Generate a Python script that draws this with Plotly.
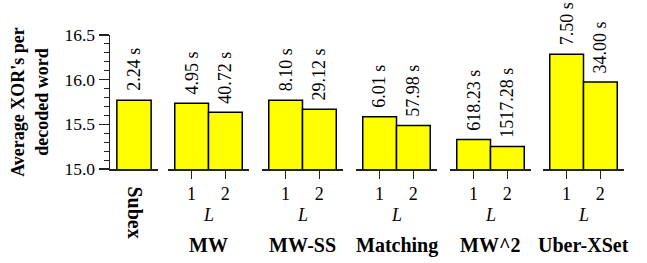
import plotly.graph_objects as go

# ---- data ----
group_names = ["Subex", "MW", "MW-SS", "Matching", "MW^2", "Uber-XSet"]
L_values = [1, 2]
subex_xor = [15.77]
mw_xor = [15.735, 15.635]
mwss_xor = [15.77, 15.67]
matching_xor = [15.585, 15.488]
mw2_xor = [15.33, 15.253]
uber_xor = [16.285, 15.973]
subex_time = ["2.24 s"]
mw_time = ["4.95 s", "40.72 s"]
mwss_time = ["8.10 s", "29.12 s"]
matching_time = ["6.01 s", "57.98 s"]
mw2_time = ["618.23 s", "1517.28 s"]
uber_time = ["7.50 s", "34.00 s"]
y_ticks = [15.0, 15.5, 16.0, 16.5]

FONT = "Liberation Serif, Times New Roman, Times, serif"
AX = "#222222"
FS = 18      # regular text
FSB = 20     # bold group labels

fig = go.Figure()

FIG_W, FIG_H = 647, 263
L_M = 110
T_M = 34.5
B_M = FIG_H - 169
R_M = FIG_W - 624
W = FIG_W - L_M - R_M
px_domains = [(110, 158), (168, 249), (262, 343), (356, 437), (450, 531), (543, 624)]
domains = [[max(0.0, (a - L_M) / W), min(1.0, (b - L_M) / W)] for a, b in px_domains]

series = [
    ([0], subex_xor, subex_time),
    (L_values, mw_xor, mw_time),
    (L_values, mwss_xor, mwss_time),
    (L_values, matching_xor, matching_time),
    (L_values, mw2_xor, mw2_time),
    (L_values, uber_xor, uber_time),
]

annotations = []
for i, (xs, ys, ts) in enumerate(series):
    xname = "x" if i == 0 else f"x{i+1}"
    axname = "xaxis" if i == 0 else f"xaxis{i+1}"
    fig.add_trace(go.Bar(
        x=xs, y=ys, xaxis=xname, yaxis="y", width=1,
        marker=dict(color="#ffff00", line=dict(color="black", width=1.5)),
        showlegend=False, hoverinfo="skip",
    ))
    for xv, yv, t in zip(xs, ys, ts):
        annotations.append(dict(
            x=xv, y=yv, xref=xname, yref="y", text=t, showarrow=False,
            textangle=-90, yanchor="bottom", xanchor="center", yshift=7,
            font=dict(family=FONT, size=FS, color="black"),
        ))
    common = dict(
        domain=domains[i], anchor="y", automargin=False,
        showline=True, linecolor=AX, linewidth=1.5,
        showgrid=False, zeroline=False, fixedrange=True,
    )
    if i == 0:
        fig.layout[axname] = dict(
            range=[-0.7, 0.7], tickvals=[0], ticktext=["<b>Subex</b>"],
            tickangle=90, ticks="outside", ticklen=12, tickwidth=1,
            tickcolor="rgba(0,0,0,0)",
            tickfont=dict(family=FONT, size=FSB, color="black"), **common,
        )
    else:
        fig.layout[axname] = dict(
            range=[0.3, 2.7], tickvals=L_values,
            ticktext=[str(v) for v in L_values],
            ticks="outside", ticklen=8, tickwidth=1.5, tickcolor=AX,
            tickfont=dict(family=FONT, size=FS, color="black"), **common,
        )
        annotations.append(dict(
            x=1.5, y=0, xref=xname, yref="paper", yshift=-46, text="<i>L</i>",
            showarrow=False, xanchor="center", yanchor="middle",
            font=dict(family=FONT, size=FS, color="black"),
        ))
        annotations.append(dict(
            x=1.5, y=0, xref=xname, yref="paper", yshift=-76,
            text=f"<b>{group_names[i]}</b>",
            showarrow=False, xanchor="center", yanchor="middle",
            font=dict(family=FONT, size=FSB, color="black"),
        ))

fig.update_layout(
    template="none",
    width=FIG_W, height=FIG_H,
    margin=dict(l=L_M, r=R_M, t=T_M, b=B_M, autoexpand=False),
    paper_bgcolor="white", plot_bgcolor="white",
    font=dict(family=FONT, size=FS, color="black"),
    bargap=0,
    annotations=annotations,
    yaxis=dict(
        range=[15.0, 16.5], tickvals=y_ticks,
        ticktext=[f"{v:.1f}" for v in y_ticks],
        ticks="outside", ticklen=10, tickwidth=1.5, tickcolor=AX,
        minor=dict(dtick=0.1, ticks="outside", ticklen=5, tickwidth=1,
                   tickcolor=AX, showgrid=False),
        showline=True, linecolor=AX, linewidth=1.5, automargin=False,
        showgrid=False, zeroline=False, fixedrange=True,
        tickfont=dict(family=FONT, size=17.5, color="black"),
        title=dict(text="<b>Average XOR's per<br>decoded word</b>", standoff=11,
                   font=dict(family=FONT, size=FS, color="black")),
    ),
)

fig.write_html(
    "out.html",
    config={"displayModeBar": False, "staticPlot": True},
    post_script="document.body.style.margin='0';document.body.style.overflow='hidden';",
)
